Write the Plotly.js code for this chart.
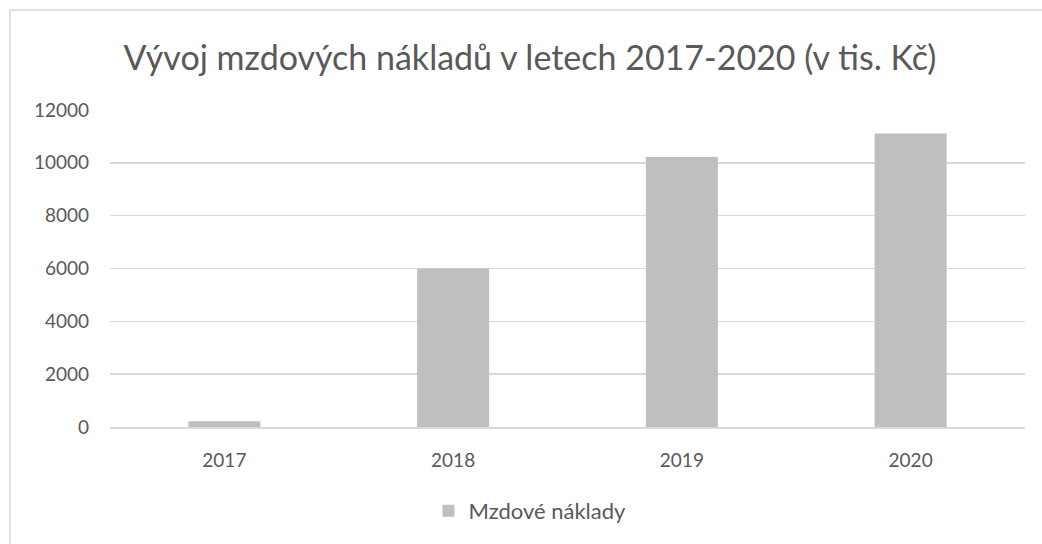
<!DOCTYPE html>
<html>
<head>
<meta charset="utf-8">
<script src="https://cdn.plot.ly/plotly-3.0.1.min.js"></script>
<style>html,body{margin:0;padding:0;background:#fff;}#chart{width:1042px;height:544px;}</style>
</head>
<body>
<div id="chart"></div>
<script>
const years = ["2017", "2018", "2019", "2020"];
const mzdoveNaklady = [215, 6000, 10220, 11110];
const yTicks = [0, 2000, 4000, 6000, 8000, 10000, 12000];
const yTickText = ["0", "2000", "4000", "6000", "8000", "10000", "12000"];
const seriesName = "Mzdové náklady";
const chartTitle = "Vývoj mzdových nákladů v letech 2017-2020 (v tis. Kč)";

const fontFam = "Lato, 'Open Sans', sans-serif";
const W = 1042, H = 544;
const m = {l: 110, r: 17, t: 110, b: 117};
const pw = W - m.l - m.r, ph = H - m.t - m.b;
const px = v => (v - m.l) / pw;
const py = v => 1 - (v - m.t) / ph;

Plotly.newPlot('chart', [{
  type: 'bar',
  x: years,
  y: mzdoveNaklady,
  name: seriesName,
  marker: {color: '#bfbfbf'},
  showlegend: true
}], {
  width: W, height: H,
  margin: m,
  paper_bgcolor: '#fff', plot_bgcolor: '#fff',
  bargap: 0.685,
  title: {text: chartTitle, font: {family: fontFam, size: 34, color: '#595959'}, x: 530 / W, xref: 'container', xanchor: 'center', y: 1 - 58 / H, yanchor: 'middle'},
  font: {family: fontFam, color: '#595959'},
  xaxis: {type: 'category', showgrid: false, showline: true, linecolor: '#d9d9d9', linewidth: 1.5, ticks: '', ticklabelstandoff: 16, tickfont: {size: 19, color: '#595959'}, fixedrange: true},
  yaxis: {range: [0, 12000], tickvals: yTicks, ticktext: yTickText, showgrid: true, gridcolor: '#d9d9d9', gridwidth: 1.5, zeroline: false, showline: false, ticks: '', ticklabelstandoff: 20, tickfont: {size: 19, color: '#595959'}, fixedrange: true},
  legend: {orientation: 'h', x: px(530), xanchor: 'center', y: py(511), yanchor: 'middle', font: {size: 22, color: '#595959'}, itemwidth: 30},
  shapes: [
    {type: 'line', xref: 'paper', yref: 'paper', x0: px(10), x1: px(10), y0: py(10), y1: py(560), line: {color: '#d9d9d9', width: 1.5}},
    {type: 'line', xref: 'paper', yref: 'paper', x0: px(10), x1: px(1060), y0: py(10), y1: py(10), line: {color: '#d9d9d9', width: 1.5}}
  ]
}, {displayModeBar: false, staticPlot: true});
</script>
</body>
</html>
